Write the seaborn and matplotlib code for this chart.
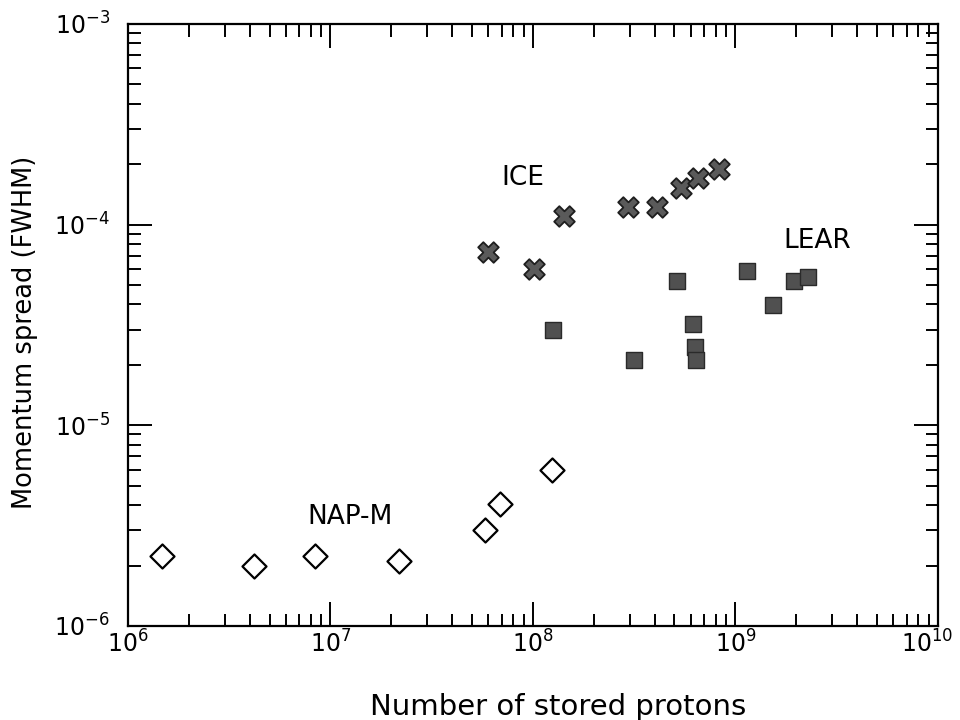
import numpy as np
import pandas as pd
import matplotlib
matplotlib.use("Agg")
import matplotlib.pyplot as plt
from matplotlib import font_manager as fm
from matplotlib.transforms import ScaledTranslation
import seaborn as sns

# NAP-M (open diamonds)
napm_x = [1.47e6, 4.2e6, 8.4e6, 2.18e7, 5.8e7, 6.85e7, 1.24e8]
napm_y = [2.22e-6, 2.0e-6, 2.23e-6, 2.11e-6, 3.0e-6, 4.06e-6, 5.97e-6]

# ICE (crosses)
ice_x = [6.0e7, 1.01e8, 1.42e8, 2.95e8, 4.08e8, 5.38e8, 6.53e8, 8.25e8]
ice_y = [7.29e-5, 6.0e-5, 1.10e-4, 1.22e-4, 1.22e-4, 1.53e-4, 1.70e-4, 1.90e-4]

# LEAR (filled squares)
lear_x = [1.25e8, 3.15e8, 5.17e8, 6.19e8, 6.3e8, 6.38e8, 1.14e9, 1.53e9, 1.94e9, 2.27e9]
lear_y = [2.99e-5, 2.12e-5, 5.24e-5, 3.19e-5, 2.47e-5, 2.12e-5, 5.87e-5, 3.98e-5, 5.26e-5, 5.47e-5]

sns.set_theme(style="ticks")

avail = {f.name for f in fm.fontManager.ttflist}
if "Liberation Sans Narrow" in avail:
    narrow = "Liberation Sans Narrow"
    tick_size, ann_size = 22, 24
else:
    narrow = "DejaVu Sans"
    tick_size, ann_size = 17, 19

plt.rcParams['font.family'] = [narrow, 'DejaVu Sans']
plt.rcParams['mathtext.default'] = 'regular'
plt.rcParams['text.color'] = 'black'
plt.rcParams['axes.labelcolor'] = 'black'
plt.rcParams['xtick.color'] = 'black'
plt.rcParams['ytick.color'] = 'black'

fig = plt.figure(figsize=(9.6, 7.2), dpi=100)
ax = fig.add_axes([0.1333, 0.1306, 0.8437, 0.8361])

napm = pd.DataFrame({"x": napm_x, "y": napm_y})
ice = pd.DataFrame({"x": ice_x, "y": ice_y})
lear = pd.DataFrame({"x": lear_x, "y": lear_y})

sns.scatterplot(data=napm, x="x", y="y", ax=ax, marker="D", s=150,
                facecolor="white", edgecolor="black", linewidth=1.6, zorder=3)
sns.scatterplot(data=ice, x="x", y="y", ax=ax, marker="X", s=220,
                color="#5a5a5a", edgecolor="#1e1e1e", linewidth=1.3, zorder=3)
sns.scatterplot(data=lear, x="x", y="y", ax=ax, marker="s", s=135,
                color="#505050", edgecolor="#2a2a2a", linewidth=1.0, zorder=3)

ax.set_xscale("log")
ax.set_yscale("log")
ax.set_xlim(1e6, 1e10)
ax.set_ylim(1e-6, 1e-3)

ax.text(8.9e7, 1.71e-4, "ICE", fontsize=ann_size, ha="center", va="center")
ax.text(2.53e9, 8.3e-5, "LEAR", fontsize=ann_size, ha="center", va="center")
ax.text(1.25e7, 3.5e-6, "NAP-M", fontsize=ann_size, ha="center", va="center")

ax.set_xlabel("Number of stored protons", fontsize=21, family="DejaVu Sans",
              ha="center", va="center")
ax.set_ylabel("Momentum spread (FWHM)", fontsize=18.5, family="DejaVu Sans",
              ha="center", va="center")
ax.xaxis.set_label_coords(0.531, -0.134)
ax.yaxis.set_label_coords(-0.127, 0.488)

for side in ["top", "right", "bottom", "left"]:
    ax.spines[side].set_visible(True)
    ax.spines[side].set_linewidth(1.6)
    ax.spines[side].set_color("black")

ax.tick_params(which="both", direction="in", top=True, right=True,
               color="black", width=1.4)
ax.tick_params(which="major", length=17, labelsize=tick_size)
ax.tick_params(axis="x", which="major", pad=3)
ax.tick_params(axis="y", which="major", pad=13)
ax.tick_params(which="minor", length=9)

fig.canvas.draw()
for tick in ax.xaxis.get_major_ticks():
    if abs(np.log10(tick.get_loc()) - 10) < 1e-6:
        lab = tick.label1
        lab.set_transform(lab.get_transform() +
                          ScaledTranslation(-8 / 72, 0, fig.dpi_scale_trans))

fig.savefig("out.png", dpi=100)
